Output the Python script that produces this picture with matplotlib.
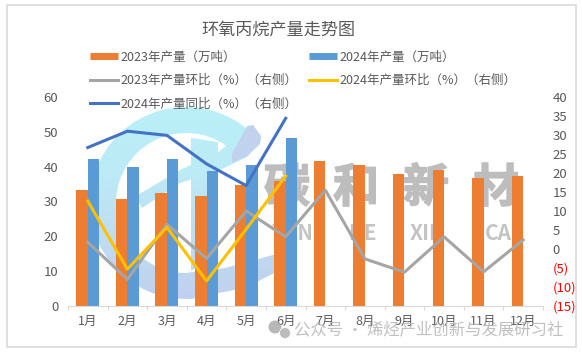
import numpy as np
import matplotlib
matplotlib.use("Agg")
import matplotlib.pyplot as plt
import matplotlib.patheffects as pe
from matplotlib.patches import Wedge, Polygon, Rectangle, Circle
from matplotlib.colors import LinearSegmentedColormap
from matplotlib.lines import Line2D

plt.rcParams['font.family'] = ['Noto Sans CJK SC', 'DejaVu Sans']

W, H = 582, 354

meses = ["1月", "2月", "3月", "4月", "5月", "6月", "7月", "8月", "9月", "10月", "11月", "12月"]
prod_2023 = [33.3, 30.7, 32.4, 31.5, 34.7, 35.8, 41.6, 40.4, 37.9, 39.0, 36.8, 37.3]
prod_2024 = [42.2, 39.9, 42.2, 38.7, 40.4, 48.2]
hb_2023 = [1.8, -8.0, 6.5, -2.5, 10.0, 3.2, 15.5, -2.6, -6.1, 3.2, -6.0, 2.4]
hb_2024 = [12.6, -5.3, 5.7, -8.4, 5.2, 19.2]
tb_2024 = [26.7, 31.0, 29.9, 22.4, 16.7, 34.4]

left_ticks = [0, 10, 20, 30, 40, 50, 60]
right_ticks = [-15, -10, -5, 0, 5, 10, 15, 20, 25, 30, 35, 40]

GRIS = "#595959"

fig = plt.figure(figsize=(W / 100, H / 100), dpi=100, facecolor="white")

# capa de fondo en pixeles: borde y marca de agua
bg = fig.add_axes([0, 0, 1, 1], zorder=0)
bg.axis("off")
bg.add_patch(Rectangle((6.5, 5), 569.5, 342, fc="white", ec="#D9D9D9", lw=1.2))

# logo: degradado cian -> lavanda recortado con cada forma
cmap = LinearSegmentedColormap.from_list("logo", ["#BAF0F8", "#BCEBF6", "#BFDDF1", "#BFD0EE"])
grad = np.linspace(0, 1, 200).reshape(-1, 1)
formas = [
    Wedge((186, 203), 96, 85, 312, width=26, fc="none", ec="none"),
    Polygon([(186, 273), (225, 268), (284, 252), (288, 266), (245, 288), (186, 299)], fc="none", ec="none"),
    Polygon([(136, 196), (180, 170), (217, 153), (253, 125), (261, 138), (260, 143), (247, 157),
             (220, 170), (180, 183), (142, 208)], fc="none", ec="none"),
    Polygon([(191, 138), (218, 142), (218, 262), (191, 270)], fc="none", ec="none"),
]
for forma in formas:
    bg.add_patch(forma)
    im = bg.imshow(grad, extent=(80, 290, 300, 105), cmap=cmap, aspect="auto", zorder=1)
    im.set_clip_path(forma)
# punta lavanda arriba a la derecha
bg.add_patch(Polygon([(247, 126), (253, 125), (261, 136), (260, 144), (247, 156), (232, 163), (232, 154)],
                     fc="#C0D2EE", ec="none", zorder=1.5))
bg.set_xlim(0, W); bg.set_ylim(H, 0)

for cx, ch in zip([287, 356, 426, 496], "碳和新材"):
    bg.text(cx, 189, ch, fontsize=33, fontweight="bold", color="#BDBDBD", ha="center", va="center", zorder=2,
            path_effects=[pe.withStroke(linewidth=1.2, foreground="#BDBDBD")])
for cx, s in zip([292, 362, 427, 502], ["TAN", "HE", "XIN", "CAI"]):
    bg.text(cx, 234, s, fontsize=15, fontweight="bold", color="#C4C4C4", ha="center", va="center", zorder=2)

ax = fig.add_axes([68 / W, 1 - 306 / H, 475 / W, 209 / H], zorder=1)
ax.patch.set_alpha(0)
x = np.arange(len(meses))
b1 = ax.bar(x - 0.145, prod_2023, 0.29, color="#ED7D31", label="2023年产量（万吨）")
b2 = ax.bar(x[:len(prod_2024)] + 0.145, prod_2024, 0.29, color="#5B9BD5", label="2024年产量（万吨）")
ax.set_xlim(-0.5, 11.5)
ax.set_ylim(0, 60)
ax.set_yticks(left_ticks)
ax.set_xticks(x)
ax.set_xticklabels(meses)
ax.set_xticks(np.arange(-0.5, 12), minor=True)
ax.tick_params(axis="x", which="major", length=0, pad=6.5, labelsize=9, labelcolor=GRIS)
ax.tick_params(axis="x", which="minor", length=3, color="#D9D9D9", width=0.8)
ax.tick_params(axis="y", length=0, pad=7, labelsize=9.5, labelcolor=GRIS)
for lado in ["top", "left", "right"]:
    ax.spines[lado].set_visible(False)
ax.spines["bottom"].set_color("#D9D9D9")

ax2 = ax.twinx()
ax2.patch.set_alpha(0)
l1, = ax2.plot(x, hb_2023, color="#A5A5A5", lw=2.2, label="2023年产量环比（%）（右侧）")
l2, = ax2.plot(x[:len(hb_2024)], hb_2024, color="#FFC000", lw=2.2, label="2024年产量环比（%）（右侧）")
l3, = ax2.plot(x[:len(tb_2024)], tb_2024, color="#4472C4", lw=2.2, label="2024年产量同比（%）（右侧）")
ax2.set_ylim(-15, 40)
ax2.set_yticks(right_ticks)
ax2.set_yticklabels([f"({-v})" if v < 0 else str(v) for v in right_ticks])
ax2.tick_params(axis="y", length=0, pad=7, labelsize=9.5, labelcolor=GRIS)
for v, t in zip(right_ticks, ax2.get_yticklabels()):
    if v < 0:
        t.set_color("#FF0000")
for lado in ["top", "left", "right", "bottom"]:
    ax2.spines[lado].set_visible(False)

fig.text(278 / W, 1 - 29.5 / H, "环氧丙烷产量走势图", fontsize=12.3, color=GRIS, ha="center", va="center")

h1 = Line2D([], [], color="#ED7D31", lw=5, solid_capstyle="butt")
h2 = Line2D([], [], color="#5B9BD5", lw=5, solid_capstyle="butt")
fig.legend([h1, l1, l3, h2, l2],
           [b1.get_label(), l1.get_label(), l3.get_label(), b2.get_label(), l2.get_label()],
           ncol=2, loc="upper left", bbox_to_anchor=(90 / W, 1 - 50.5 / H), frameon=False,
           fontsize=9, labelcolor=GRIS, handlelength=2.25, handletextpad=0.2,
           columnspacing=0.9, labelspacing=0.85, borderpad=0, borderaxespad=0)

# marca de agua del pie, encima de todo
top = fig.add_axes([0, 0, 1, 1], zorder=5)
top.set_xlim(0, W); top.set_ylim(H, 0); top.axis("off"); top.patch.set_alpha(0)
top.add_patch(Circle((275, 327), 6.5, fc="#A6A6A6", ec="none", alpha=0.8))
top.add_patch(Circle((285, 333), 5.5, fc="#B5B5B5", ec="white", lw=0.6, alpha=0.9))
top.text(294, 331, "公众号 · 烯烃产业创新与发展研习社", fontsize=11.8, color="#B5B5B5", alpha=0.85, ha="left", va="center")

fig.savefig("out.png", dpi=100)
